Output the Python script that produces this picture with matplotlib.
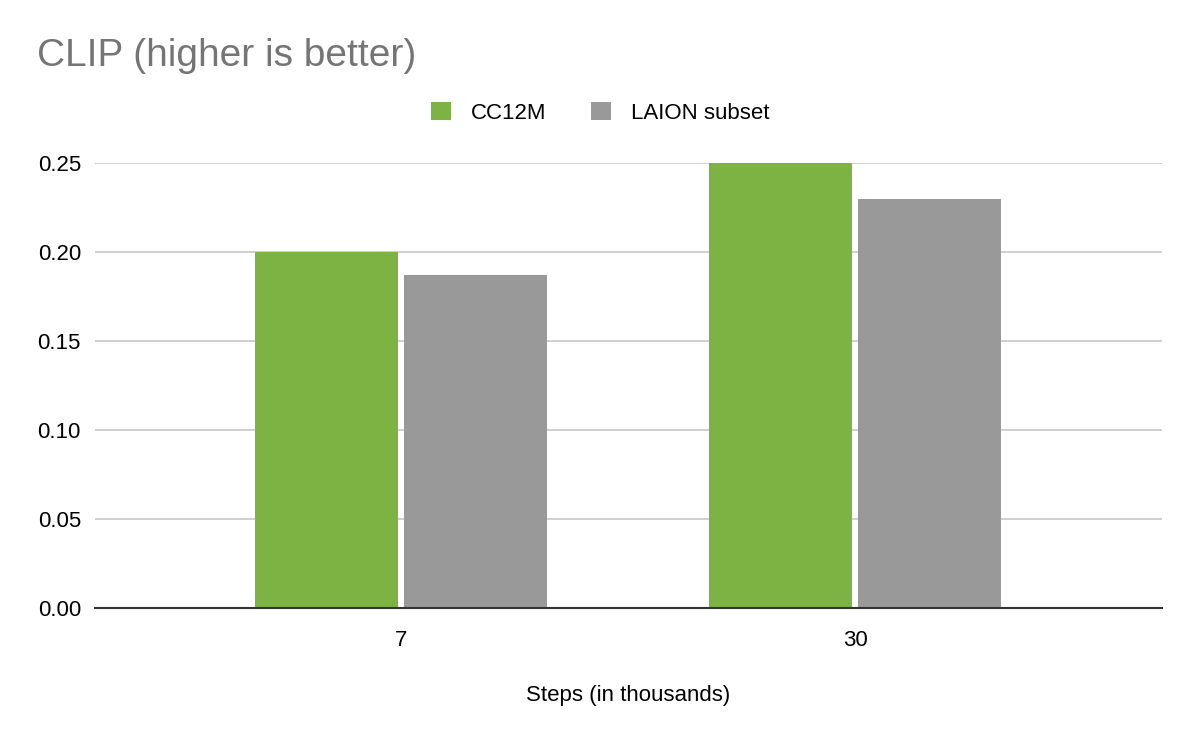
import matplotlib
matplotlib.use("Agg")
import matplotlib.pyplot as plt
import numpy as np

plt.rcParams['font.family'] = ['Liberation Sans', 'DejaVu Sans']

# data
steps = ["7", "30"]
cc12m = [0.200, 0.250]
laion = [0.187, 0.230]
series_names = ["CC12M", "LAION subset"]
colors = ['#7cb342', '#999999']
yticks = [0.00, 0.05, 0.10, 0.15, 0.20, 0.25]

fig = plt.figure(figsize=(12, 7.42), dpi=100)
ax = fig.add_axes([0.079, 0.1806, 0.889, 0.5997])

x = np.arange(len(steps))
w = 0.315
gap = 0.0065
ax.bar(x - w / 2 - gap, cc12m, width=w, color=colors[0], label=series_names[0], zorder=3, clip_on=False)
ax.bar(x + w / 2 + gap, laion, width=w, color=colors[1], label=series_names[1], zorder=3, clip_on=False)

ax.set_xlim(-0.675, 1.675)
ax.set_ylim(0, 0.25)
ax.set_yticks(yticks)
ax.set_yticklabels([f"{v:.2f}" for v in yticks], fontsize=16)
ax.set_xticks(x)
ax.set_xticklabels(steps, fontsize=16)
ax.tick_params(length=0, pad=10)
ax.tick_params(axis='x', pad=16)

ax.grid(axis='y', color='#cccccc', linewidth=1.3, zorder=0)
for side in ['top', 'right', 'left']:
    ax.spines[side].set_visible(False)
ax.spines['bottom'].set_color('#333333')
ax.spines['bottom'].set_linewidth(1.5)
ax.spines['bottom'].set_zorder(4)

ax.set_xlabel("Steps (in thousands)", fontsize=16, labelpad=24)

fig.text(0.031, 0.924, "CLIP (higher is better)", fontsize=28, color='#757575', va='center')

fig.legend(loc='center', bbox_to_anchor=(0.5, 0.848), ncol=2, frameon=False, fontsize=16,
           handlelength=0.9, handleheight=0.9, columnspacing=2.0, handletextpad=0.9)

fig.savefig("out.png", dpi=100, facecolor='white')
